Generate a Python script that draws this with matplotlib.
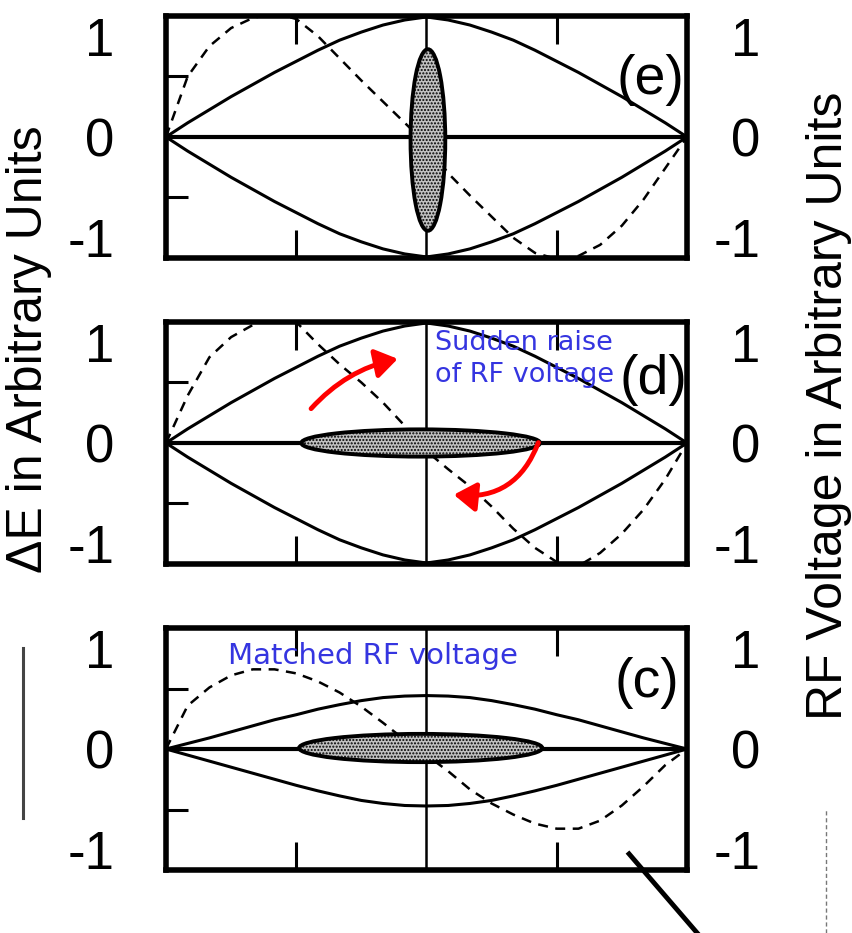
import matplotlib
matplotlib.use('Agg')
import matplotlib.pyplot as plt
from matplotlib.patches import Ellipse, FancyArrowPatch
from matplotlib.lines import Line2D

plt.rcParams['font.family'] = ['Liberation Sans', 'DejaVu Sans']
plt.rcParams['hatch.linewidth'] = 1.0

# phase grid in degrees (-180 .. 180)
phase = [-180, -165, -150, -135, -120, -105, -90, -75, -60, -45, -30, -15, 0,
         15, 30, 45, 60, 75, 90, 105, 120, 135, 150, 165, 180]

# separatrix (solid), panels (e) and (d)
sep_upper_big = [0, 0.14, 0.27, 0.40, 0.52, 0.64, 0.75, 0.86, 0.96, 1.04, 1.11, 1.16, 1.19,
                 1.16, 1.11, 1.04, 0.96, 0.86, 0.75, 0.64, 0.52, 0.40, 0.27, 0.14, 0]
sep_lower_big = [0, -0.14, -0.27, -0.40, -0.52, -0.64, -0.75, -0.86, -0.96, -1.04, -1.11, -1.16, -1.19,
                 -1.16, -1.11, -1.04, -0.96, -0.86, -0.75, -0.64, -0.52, -0.40, -0.27, -0.14, 0]
# separatrix (solid), panel (c)
sep_upper_small = [0, 0.055, 0.11, 0.17, 0.23, 0.29, 0.34, 0.395, 0.44, 0.48, 0.51, 0.525, 0.53,
                   0.525, 0.51, 0.48, 0.44, 0.395, 0.34, 0.29, 0.23, 0.17, 0.11, 0.055, 0]
sep_lower_small = [0, -0.06, -0.12, -0.18, -0.24, -0.30, -0.36, -0.415, -0.465, -0.51, -0.54, -0.56, -0.565,
                   -0.56, -0.54, -0.51, -0.465, -0.415, -0.36, -0.30, -0.24, -0.18, -0.12, -0.06, 0]

# RF voltage (dashed)
rf_e = [0, 0.60, 0.90, 1.08, 1.18, 1.23, 1.17, 1.00, 0.78, 0.56, 0.35, 0.14, -0.07,
        -0.36, -0.58, -0.79, -1.00, -1.15, -1.21, -1.18, -1.07, -0.88, -0.62, -0.31, 0]
rf_d = [0, 0.47, 0.85, 1.05, 1.17, 1.24, 1.20, 0.98, 0.78, 0.60, 0.40, 0.17, -0.08,
        -0.26, -0.43, -0.63, -0.85, -1.04, -1.18, -1.22, -1.09, -0.90, -0.66, -0.36, 0]
rf_c = [0, 0.43, 0.61, 0.73, 0.79, 0.79, 0.75, 0.67, 0.56, 0.42, 0.26, 0.09, -0.06,
        -0.22, -0.40, -0.54, -0.65, -0.74, -0.79, -0.79, -0.71, -0.56, -0.37, -0.16, 0]

# bunch ellipses: centre phase, centre dE, full width (deg), full height
bunch_e = (1, -0.03, 24, 1.80)
bunch_d = (-4, 0.0, 165, 0.27)
bunch_c = (-4, 0.01, 168, 0.28)

panel_tags = ['(e)', '(d)', '(c)']
tag_pos = [(155, 0.56), (157, 0.62), (152, 0.65)]

# red arrows in panel (d): tail -> tip (phase, dE)
arrow_up = [(-81, 0.32), (-18, 0.84)]
arrow_down = [(78, 0.03), (17, -0.51)]

yticks = [-1, 0, 1]
ytick_labels = ['-1', '0', '1']

fig = plt.figure(figsize=(8.52, 9.33), dpi=100)

left, width, height = 0.1948, 0.6115, 0.2594
bottoms = [0.7235, 0.3955, 0.0675]
seps = [(sep_upper_big, sep_lower_big), (sep_upper_big, sep_lower_big), (sep_upper_small, sep_lower_small)]
rfs = [rf_e, rf_d, rf_c]
bunches = [bunch_e, bunch_d, bunch_c]
axes = []

for i in range(3):
    ax = fig.add_axes([left, bottoms[i], width, height])
    axr = ax.twinx()
    axes.append(ax)
    ax.set_xlim(-180, 180)
    ax.set_ylim(-1.2, 1.2)
    axr.set_ylim(-1.2, 1.2)

    for sp in ax.spines.values():
        sp.set_linewidth(4)
    for sp in axr.spines.values():
        sp.set_visible(False)

    ax.set_xticks([-90, 90])
    ax.tick_params(axis='x', direction='in', length=20, width=2.2, top=True, bottom=True,
                   labelbottom=False)
    ax.set_yticks(yticks, ytick_labels)
    ax.tick_params(axis='y', which='major', length=0, pad=37, labelsize=38)
    ax.set_yticks([-0.6, 0.6], minor=True)
    ax.tick_params(axis='y', which='minor', direction='in', length=16, width=2.2,
                   left=True, right=False)

    axr.set_yticks(yticks, ytick_labels)
    axr.tick_params(axis='y', length=0, pad=53, labelsize=38)
    for lab in axr.get_yticklabels():
        lab.set_horizontalalignment('right')

    ax.axhline(0, color='black', lw=3, zorder=2)
    ax.axvline(0, color='black', lw=1.8, zorder=2)

    up, lo = seps[i]
    ax.plot(phase, up, color='black', lw=2.2, zorder=3)
    ax.plot(phase, lo, color='black', lw=2.2, zorder=3)
    ax.plot(phase, rfs[i], color='black', lw=1.8, ls=(0, (4, 3)), zorder=3)

    cx, cy, w, h = bunches[i]
    ax.add_patch(Ellipse((cx, cy), w, h, facecolor='#c2c2c2', edgecolor='black',
                         hatch='.....', lw=2.8, zorder=5))

    ax.text(tag_pos[i][0], tag_pos[i][1], panel_tags[i], fontsize=40, ha='center',
            va='center', zorder=6)

# annotations
ax_d = axes[1]
ax_c = axes[2]
ax_d.text(6, 0.83, 'Sudden raise\nof RF voltage', color='#3535e0', fontsize=19.5,
          family='DejaVu Sans', ha='left', va='center', linespacing=1.3, zorder=6)
ax_c.text(-137, 0.92, 'Matched RF voltage', color='#3535e0', fontsize=21,
          family='DejaVu Sans', ha='left', va='center', zorder=6)

for (tail, tip), rad in [(arrow_up, -0.17), (arrow_down, -0.4)]:
    ax_d.add_patch(FancyArrowPatch(tail, tip, connectionstyle=f'arc3,rad={rad}',
                                   arrowstyle='-|>,head_length=0.6,head_width=0.4',
                                   mutation_scale=22, color='red', lw=3.5, zorder=7))

# pointer line leaving panel (c)
pointer = [(140, -1.04), (188, -1.84)]
ax_c.add_line(Line2D([pointer[0][0], pointer[1][0]], [pointer[0][1], pointer[1][1]],
                     color='black', lw=3.5, clip_on=False, zorder=7))

# legend samples at the figure edges
fig.add_artist(Line2D([0.027, 0.027], [0.123, 0.305], color='#444444', lw=2.2))
fig.add_artist(Line2D([0.970, 0.970], [0.0, 0.134], color='#777777', lw=1.0, ls=(0, (3, 2))))

fig.text(0.034, 0.626, '\u0394E in Arbitrary Units', rotation=90, fontsize=36,
         ha='center', va='center')
fig.text(0.973, 0.565, 'RF Voltage in Arbitrary Units', rotation=90, fontsize=36,
         ha='center', va='center')

fig.savefig('out.png', dpi=100)
